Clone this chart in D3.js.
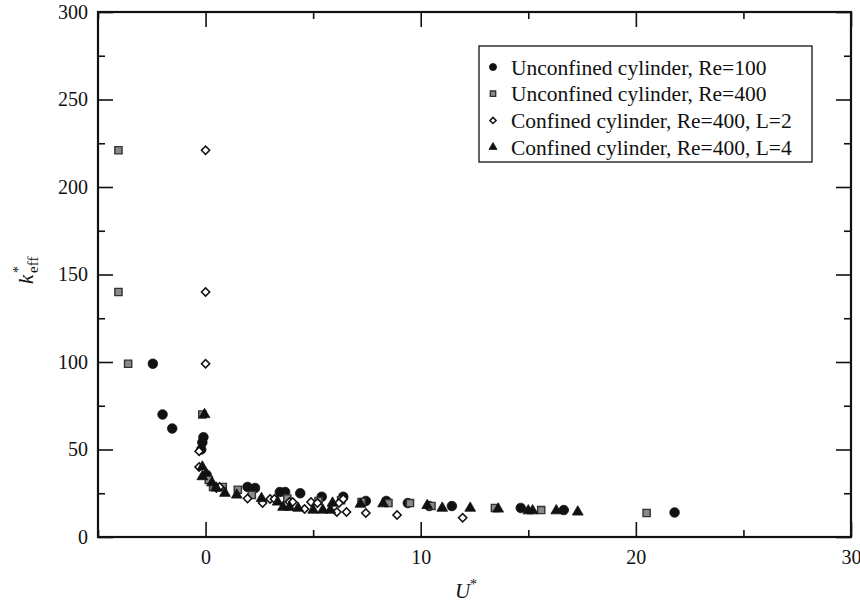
<!DOCTYPE html>
<html>
<head>
<meta charset="utf-8">
<script src="https://cdn.jsdelivr.net/npm/d3@7"></script>
<style>
  body { margin: 0; background: #fff; }
  svg { display: block; font-family: "Liberation Serif", "Times New Roman", serif; }
</style>
</head>
<body>
<div class="container"></div>
<script>
// series: [U*, k*_eff]
var unconfined100 = [
    [-2.45, 99], [-2.0, 70], [-1.55, 62], [-0.1, 57], [-0.15, 54], [-0.2, 50],
    [0.05, 35.5], [1.95, 28.6], [2.3, 28], [3.45, 25.7], [3.7, 25.7], [4.4, 25],
    [5.4, 23], [6.4, 23], [7.45, 20.6], [8.4, 20.6], [9.4, 19.4], [10.4, 17.7],
    [11.45, 17.7], [14.65, 16.6], [16.65, 15.4], [21.8, 14]
];
var unconfined400 = [
    [-4.05, 221], [-4.05, 140], [-3.6, 99], [-0.15, 70], [0.15, 32.6], [0.35, 28.6],
    [0.8, 28.6], [1.5, 27], [2.15, 24], [3.8, 22], [5.25, 20.6], [6.3, 21],
    [7.25, 20], [8.5, 19.4], [9.5, 19.4], [10.5, 17.7], [13.45, 16.6], [15.6, 15.4],
    [20.5, 13.7]
];
var confinedL2 = [
    [0, 221], [0, 140], [0, 99], [-0.3, 49], [-0.3, 40], [0.5, 28], [0.65, 28.6],
    [1.95, 22], [2.65, 19.4], [3.0, 21.7], [3.2, 21.7], [3.9, 20], [4.05, 20],
    [4.6, 16], [4.9, 20], [5.2, 19.4], [6.1, 14.3], [6.2, 19.4], [6.4, 21.7],
    [6.55, 14.3], [7.45, 13.7], [8.9, 12.6], [11.95, 11]
];
var confinedL4 = [
    [-0.05, 70], [-0.15, 40], [-0.15, 34.5], [0.3, 31], [0.5, 28], [0.9, 25],
    [1.45, 24], [2.6, 22], [3.35, 20], [3.6, 17], [3.9, 17], [4.3, 16.5],
    [5.0, 15.4], [5.45, 15.4], [5.8, 15.4], [5.9, 19.4], [7.2, 18.8], [8.25, 19],
    [10.3, 18], [11.0, 16.5], [12.3, 16.5], [13.6, 16], [15.0, 15], [15.2, 15],
    [16.3, 15], [17.3, 14.3]
];

var legendLabels = [
    'Unconfined cylinder, Re=100',
    'Unconfined cylinder, Re=400',
    'Confined cylinder, Re=400, L=2',
    'Confined cylinder, Re=400, L=4'
];
var xMajor = [0, 10, 20, 30];
var xMinor = [-5, 5, 15, 25];
var yMajor = [0, 50, 100, 150, 200, 250, 300];
var yMinor = [25, 75, 125, 175, 225, 275];

var translate = function (x, y) {
    return 'translate(' + x + ', ' + y + ')';
};

var WIDTH = 860, HEIGHT = 604;
var LEFT = 98, RIGHT = 851, TOP = 12, BOTTOM = 537;

var xScale = d3.scaleLinear().domain([-5, 30]).range([LEFT, RIGHT]);
var yScale = d3.scaleLinear().domain([0, 300]).range([BOTTOM, TOP]);

var svg = d3.select('.container').append('svg')
    .attr('width', WIDTH)
    .attr('height', HEIGHT);

var addAxis = function (axis, x, y, keepText) {
    var g = svg.append('g')
        .attr('transform', translate(x, y))
        .call(axis);
    g.select('.domain').remove();
    g.selectAll('line').attr('stroke', '#111').attr('stroke-width', 1.6);
    g.selectAll('text')
        .attr('font-family', '"Liberation Serif", serif')
        .attr('font-size', 20)
        .attr('fill', '#111');
    if (!keepText) g.selectAll('text').remove();
    return g;
};

// ticks on all four sides, pointing inwards
addAxis(d3.axisBottom(xScale).tickValues(xMajor).tickSize(-15).tickPadding(13), 0, BOTTOM, true);
addAxis(d3.axisBottom(xScale).tickValues(xMinor).tickSize(-7), 0, BOTTOM);
addAxis(d3.axisTop(xScale).tickValues(xMajor).tickSize(-15), 0, TOP);
addAxis(d3.axisTop(xScale).tickValues(xMinor).tickSize(-7), 0, TOP);
addAxis(d3.axisLeft(yScale).tickValues(yMajor).tickSize(-15).tickPadding(10), LEFT, 0, true);
addAxis(d3.axisLeft(yScale).tickValues(yMinor).tickSize(-7), LEFT, 0);
addAxis(d3.axisRight(yScale).tickValues(yMajor).tickSize(-15), RIGHT, 0);
addAxis(d3.axisRight(yScale).tickValues(yMinor).tickSize(-7), RIGHT, 0);

svg.append('rect')
    .attr('x', LEFT).attr('y', TOP)
    .attr('width', RIGHT - LEFT).attr('height', BOTTOM - TOP)
    .attr('fill', 'none')
    .attr('stroke', '#111')
    .attr('stroke-width', 2.2);

// axis titles
var xTitle = svg.append('text')
    .attr('x', 466).attr('y', 598)
    .attr('text-anchor', 'middle')
    .attr('font-size', 21)
    .attr('fill', '#111');
xTitle.append('tspan').attr('font-style', 'italic').text('U');
xTitle.append('tspan').attr('font-size', 14).attr('dy', -9).text('*');

var yTitle = svg.append('g').attr('transform', translate(33, 272) + ' rotate(-90)');
yTitle.append('text')
    .attr('x', -12).attr('y', 0)
    .attr('font-size', 21).attr('font-style', 'italic').attr('fill', '#111')
    .text('k');
yTitle.append('text')
    .attr('x', -1).attr('y', -10)
    .attr('font-size', 14).attr('fill', '#111')
    .text('*');
yTitle.append('text')
    .attr('x', -1).attr('y', 5)
    .attr('font-size', 15).attr('fill', '#111')
    .text('eff');

// markers
var markers = [
    {data: unconfined100, type: d3.symbolCircle, size: 72, rot: 0, fill: '#111', stroke: '#111', sw: 0.8},
    {data: unconfined400, type: d3.symbolSquare, size: 52, rot: 0, fill: '#8a8a8a', stroke: '#333', sw: 1.4},
    {data: confinedL2, type: d3.symbolSquare, size: 34, rot: 45, fill: '#fff', stroke: '#111', sw: 1.5},
    {data: confinedL4, type: d3.symbolTriangle, size: 50, rot: 0, fill: '#111', stroke: '#111', sw: 0.8}
];

var addPoints = function (m) {
    svg.append('g').selectAll('path')
        .data(m.data)
        .enter()
        .append('path')
        .attr('d', d3.symbol().type(m.type).size(m.size))
        .attr('transform', function (d) {
            return translate(xScale(d[0]), yScale(d[1])) + ' rotate(' + m.rot + ')';
        })
        .attr('fill', m.fill)
        .attr('stroke', m.stroke)
        .attr('stroke-width', m.sw);
};
markers.forEach(addPoints);

// legend
var legend = svg.append('g');
legend.append('rect')
    .attr('x', 479).attr('y', 46)
    .attr('width', 333).attr('height', 116)
    .attr('fill', '#fff')
    .attr('stroke', '#111')
    .attr('stroke-width', 1.3);

legendLabels.forEach(function (label, i) {
    var m = markers[i];
    var cy = 67 + i * 26.7;
    legend.append('path')
        .attr('d', d3.symbol().type(m.type).size(m.size * 0.55))
        .attr('transform', translate(493, cy) + ' rotate(' + m.rot + ')')
        .attr('fill', m.fill)
        .attr('stroke', m.stroke)
        .attr('stroke-width', m.sw);
    legend.append('text')
        .attr('x', 511).attr('y', cy)
        .attr('dy', '0.35em')
        .attr('font-size', 21.5)
        .attr('fill', '#111')
        .text(label);
});
</script>
</body>
</html>
